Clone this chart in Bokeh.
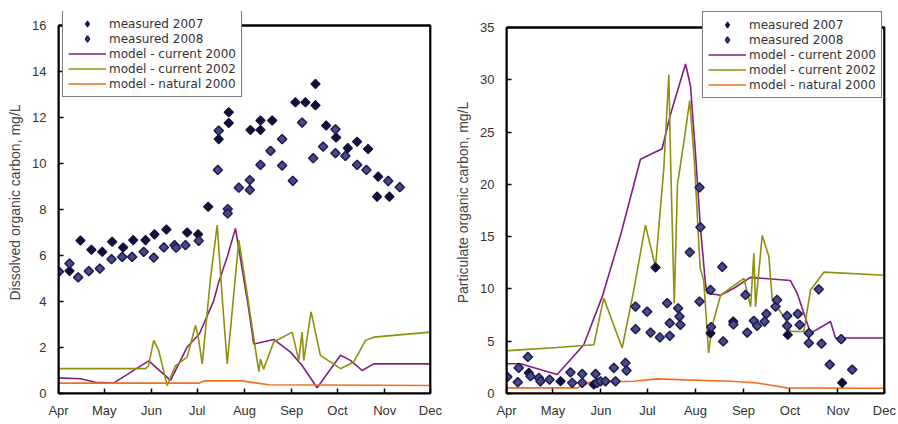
import math
from bokeh.plotting import figure
from bokeh.models import Range1d, FixedTicker, Legend, LegendItem, BoxAnnotation
from bokeh.layouts import row
from bokeh.embed import file_html
from bokeh.resources import INLINE

# x = days since 1 April
month_ticks = [0, 30, 61, 91, 122, 153, 183, 214, 244]
month_labels = ["Apr", "May", "Jun", "Jul", "Aug", "Sep", "Oct", "Nov", "Dec"]
series_names = ["measured 2007", "measured 2008", "model - current 2000",
                "model - current 2002", "model - natural 2000"]

# ---------------- Left panel: dissolved organic carbon ----------------
doc07_day = [0.2, 7.2, 14.4, 21.6, 28.7, 35.2, 42.4, 49.0, 57.1, 63.0, 70.8, 84.4, 91.6,
             98.2, 105.1, 111.7, 111.7, 125.9, 132.5, 132.5, 140.2, 155.4, 162.0, 168.6,
             168.6, 175.6, 182.1, 189.8, 195.9, 203.1, 209.7, 209.0, 217.1]
doc07_val = [5.3, 5.33, 6.65, 6.25, 6.16, 6.6, 6.35, 6.67, 6.67, 6.92, 7.13, 7.0, 6.92,
             8.12, 11.06, 12.23, 11.76, 11.46, 11.87, 11.46, 11.87, 12.66, 12.66, 13.46,
             12.53, 11.65, 11.13, 10.67, 10.95, 10.63, 9.43, 8.56, 8.56]
doc08_day = [0.2, 7.2, 12.9, 19.9, 27.1, 34.8, 41.8, 48.3, 55.9, 62.5, 69.1, 76.1, 77.2,
             83.3, 92.0, 104.5, 105.1, 111.0, 111.0, 118.3, 125.5, 125.5, 132.5, 139.1,
             146.7, 146.7, 153.7, 159.8, 167.1, 173.6, 181.7, 181.7, 188.2, 195.9, 202.0,
             216.3, 223.9]
doc08_val = [5.3, 5.65, 5.05, 5.32, 5.43, 5.84, 5.94, 5.94, 6.16, 5.91, 6.35, 6.45, 6.34,
             6.45, 6.64, 9.72, 11.43, 8.02, 7.83, 8.95, 9.28, 8.85, 9.94, 10.55,
             11.06, 9.91, 9.25, 11.78, 10.23, 10.74, 11.49, 10.45, 10.33, 9.94, 9.72,
             9.24, 8.97]
doc_cur2000_day = [0, 14.4, 24.3, 36.1, 59.2, 73.5, 84.4, 92.5, 101.9, 104.9, 110.7, 116.1,
                   124.6, 128.1, 141.2, 152.2, 159.8, 169.7, 185.0, 191.5, 199.2, 206.8, 244]
doc_cur2000_val = [0.68, 0.64, 0.49, 0.45, 1.42, 0.57, 2.02, 2.6, 4.05, 4.8, 5.94, 7.18,
                   3.76, 2.15, 2.35, 1.8, 1.22, 0.25, 1.66, 1.44, 1.0, 1.29, 1.29]
doc_cur2002_day = [0, 57.1, 59.0, 62.5, 65.6, 71.3, 76.7, 84.4, 89.9, 91.8, 94.3, 99.7,
                   104.1, 107.6, 110.7, 118.3, 122.7, 131.4, 132.5, 134.5, 141.2, 153.3,
                   157.6, 159.8, 160.9, 165.7, 171.8, 185.0, 193.7, 201.4, 206.8, 244]
doc_cur2002_val = [1.08, 1.08, 1.2, 2.31, 1.9, 0.35, 1.2, 1.58, 2.96, 2.4, 1.29, 5.0,
                   7.32, 4.0, 1.29, 6.67, 4.8, 0.95, 1.5, 1.05, 2.24, 2.67,
                   1.44, 2.67, 1.44, 3.55, 1.66, 1.08, 1.37, 2.31, 2.45, 2.67]
doc_nat2000_day = [0, 92, 96, 120, 138, 244]
doc_nat2000_val = [0.45, 0.45, 0.55, 0.55, 0.38, 0.35]

# ---------------- Right panel: particulate organic carbon ----------------
poc07_day = [14.4, 34.9, 56.4, 96.2, 131.7, 146.4, 181.6, 216.7]
poc07_val = [1.97, 1.17, 0.86, 12.05, 5.77, 6.88, 5.61, 1.02]
poc08_day = [0.5, 7.3, 7.9, 13.8, 15.5, 20.9, 21.9, 27.8, 41.3, 42.4, 48.9, 48.9, 57.5,
             58.6, 60.7, 63.9, 70.4, 69.3, 76.8, 77.5, 83.3, 83.3, 90.8, 93.0, 99.0,
             103.7, 105.4, 105.4, 110.8, 111.7, 112.3, 118.3, 124.6, 124.6, 125.2, 131.7,
             132.1, 139.3, 139.9, 146.5, 154.3, 155.4, 159.7, 161.8, 166.6, 167.8, 173.7,
             174.7, 181.2, 181.2, 188.1, 189.3, 195.2, 195.2, 201.6, 203.4, 208.7, 216.1,
             223.2]
poc08_val = [1.59, 1.08, 2.45, 3.49, 1.65, 1.49, 1.17, 1.33, 2.03, 1.02, 1.87, 1.02, 1.87,
             1.02, 1.17, 1.17, 1.17, 2.45, 2.92, 2.19, 8.31, 6.15, 7.83, 5.83, 5.36,
             8.63, 6.73, 5.52, 8.15, 7.36, 6.57, 13.5, 8.79, 19.7, 15.9, 9.9,
             6.35, 12.1, 4.98, 6.6, 9.42, 5.83, 6.95, 6.47, 6.88, 7.61, 8.31,
             8.94, 7.42, 6.47, 7.61, 6.57, 5.77, 4.82, 9.96, 4.76, 2.76, 5.2,
             2.28]
poc_cur2000_day = [0, 9.0, 32.7, 49.9, 61.8, 73.6, 86.5, 100.5, 105.9, 115.6, 118.8, 122.0,
                   125.2, 128.5, 129.6, 138.2, 146.8, 157.5, 183.3, 187.7, 196.3, 203.8,
                   209.2, 212.4, 244]
poc_cur2000_val = [2.85, 2.85, 1.81, 4.66, 9.26, 15.1, 22.4, 23.4, 26.7, 31.5, 29.4, 23.0,
                   15.9, 10.4, 9.6, 9.4, 10.06, 11.1, 10.8, 9.58, 5.77, 6.4,
                   6.88, 5.3, 5.3]
poc_cur2002_day = [0, 32.7, 56.4, 60.7, 62.8, 74.7, 82.2, 89.7, 96.2, 101.6, 104.8, 106.0,
                   108.3, 110.4, 114.5, 118.3, 121.4, 125.0, 127.3, 130.5, 132.7, 138.2,
                   153.3, 157.6, 159.7, 160.8, 165.1, 169.4, 171.6, 179.1, 183.4, 192.0,
                   196.3, 204.9, 244]
poc_cur2002_val = [4.09, 4.4, 4.66, 7.68, 9.1, 4.35, 9.9, 16.1, 12.1, 21.6, 30.5, 22.0,
                   8.6, 20.0, 24.0, 28.0, 22.0, 12.0, 10.85, 3.87, 6.4, 9.4,
                   11.0, 8.3, 13.4, 8.3, 15.1, 13.1, 8.9, 7.36, 5.93, 5.93,
                   9.9, 11.6, 11.3]
poc_nat2000_day = [0, 46, 54, 82, 97, 116, 145, 162, 181, 244]
poc_nat2000_val = [0.54, 0.54, 1.07, 1.17, 1.4, 1.3, 1.17, 1.0, 0.54, 0.5]

FONT = "Liberation Sans"
LEG_FONT = "DejaVu Sans"
C_PURPLE = "#7f1f7f"
C_OLIVE = "#8f8f10"
C_ORANGE = "#f07020"
C07_FILL, C07_LINE = "#10103a", "#10103a"
C08_FILL, C08_LINE = "#4a4a88", "#1c1c50"
FRAME = "black"
XEND = 244


def make_panel(width, borders, ymax, ytop, yticks, ylabel, pts07, pts08, lines, legend_loc):
    bl, br, bt, bb = borders
    p = figure(width=width, height=424, output_backend="svg", toolbar_location=None,
               x_range=Range1d(0, XEND + 0.7), y_range=Range1d(0, ytop),
               min_border_left=bl, min_border_right=br, min_border_top=bt,
               min_border_bottom=bb)
    p.outline_line_color = None
    p.xgrid.visible = False
    p.ygrid.visible = False

    p.xaxis.ticker = FixedTicker(ticks=month_ticks)
    p.xaxis.major_label_overrides = {t: l for t, l in zip(month_ticks, month_labels)}
    p.xaxis.bounds = (0, XEND)
    p.yaxis.ticker = FixedTicker(ticks=yticks)
    p.yaxis.bounds = (0, ymax)
    for ax in (p.xaxis, p.yaxis):
        ax.axis_line_width = 2
        ax.axis_line_color = FRAME
        ax.major_tick_in = 5
        ax.major_tick_out = 0
        ax.major_tick_line_width = 1.5
        ax.major_tick_line_color = FRAME
        ax.minor_tick_line_color = None
        ax.major_label_text_font = FONT
        ax.major_label_text_font_size = "13px"
        ax.major_label_text_color = "#333333"
    p.xaxis.major_label_standoff = 9
    p.yaxis.major_label_standoff = 12
    p.yaxis.axis_label = ylabel
    p.yaxis.axis_label_text_font = FONT
    p.yaxis.axis_label_text_font_style = "normal"
    p.yaxis.axis_label_text_font_size = "14px"
    p.yaxis.axis_label_text_color = "#444444"
    p.yaxis.axis_label_standoff = 6

    # top and right edges of the data box (glyph)
    p.segment(x0=[0, XEND], y0=[ymax, 0], x1=[XEND, XEND], y1=[ymax, ymax],
              line_color=FRAME, line_width=2)

    renderers = []
    for (xd, yd), col in zip(lines, [C_PURPLE, C_OLIVE, C_ORANGE]):
        renderers.append(p.line(xd, yd, line_color=col, line_width=1.6))
    p.scatter(pts07[0], pts07[1], marker="square", size=6.5, angle=math.pi / 4,
              fill_color=C07_FILL, line_color=C07_LINE, line_width=1.2)
    p.scatter(pts08[0], pts08[1], marker="square", size=6.5, angle=math.pi / 4,
              fill_color=C08_FILL, line_color=C08_LINE, line_width=1.5)
    # hidden diamond renderers used only for the legend symbols
    l07 = p.scatter(pts07[0], pts07[1], marker="diamond", fill_color=C07_FILL,
                    line_color=C07_LINE, line_width=1.2, visible=False)
    l08 = p.scatter(pts08[0], pts08[1], marker="diamond", fill_color=C08_FILL,
                    line_color=C08_LINE, line_width=1.5, visible=False)

    # box around the data area (annotation, under the legend)
    box = BoxAnnotation(left=0, right=XEND, bottom=0, top=ymax,
                        fill_alpha=0, fill_color=None,
                        line_color=FRAME, line_width=2, line_alpha=1.0)
    p.add_layout(box)

    rs = [l07, l08] + renderers
    legend = Legend(items=[LegendItem(label=n, renderers=[r]) for n, r in zip(series_names, rs)],
                    location=legend_loc)
    legend.label_text_font = LEG_FONT
    legend.label_text_font_size = "12px"
    legend.label_text_color = "#333333"
    legend.glyph_width = 38
    legend.glyph_height = 15
    legend.label_height = 15
    legend.label_standoff = 3
    legend.spacing = 0
    legend.padding = 5
    legend.margin = 0
    legend.inactive_fill_alpha = 0
    legend.border_line_color = FRAME
    legend.border_line_width = 1.5
    legend.background_fill_color = "white"
    legend.background_fill_alpha = 1.0
    p.add_layout(legend)
    return p


# left frame: x 58..430, y(0)=393, y(16)=25, legend top 12
p1 = make_panel(449, (58, 18, 11, 31), 16, 16 + 14 / 22.94, list(range(0, 17, 2)),
                "Dissolved organic carbon, mg/L",
                (doc07_day, doc07_val), (doc08_day, doc08_val),
                [(doc_cur2000_day, doc_cur2000_val), (doc_cur2002_day, doc_cur2002_val),
                 (doc_nat2000_day, doc_nat2000_val)],
                (4, 296))
# right frame: x 506..884, y(0)=394, y(35)=26, legend top 11
p2 = make_panel(449, (57, 13, 10, 30), 35, 35 + 16 / 10.51, list(range(0, 36, 5)),
                "Particulate organic carbon, mg/L",
                (poc07_day, poc07_val), (poc08_day, poc08_val),
                [(poc_cur2000_day, poc_cur2000_val), (poc_cur2002_day, poc_cur2002_val),
                 (poc_nat2000_day, poc_nat2000_val)],
                (196, 295))

layout = row(p1, p2)
open("out.html", "w").write(file_html(layout, INLINE))
